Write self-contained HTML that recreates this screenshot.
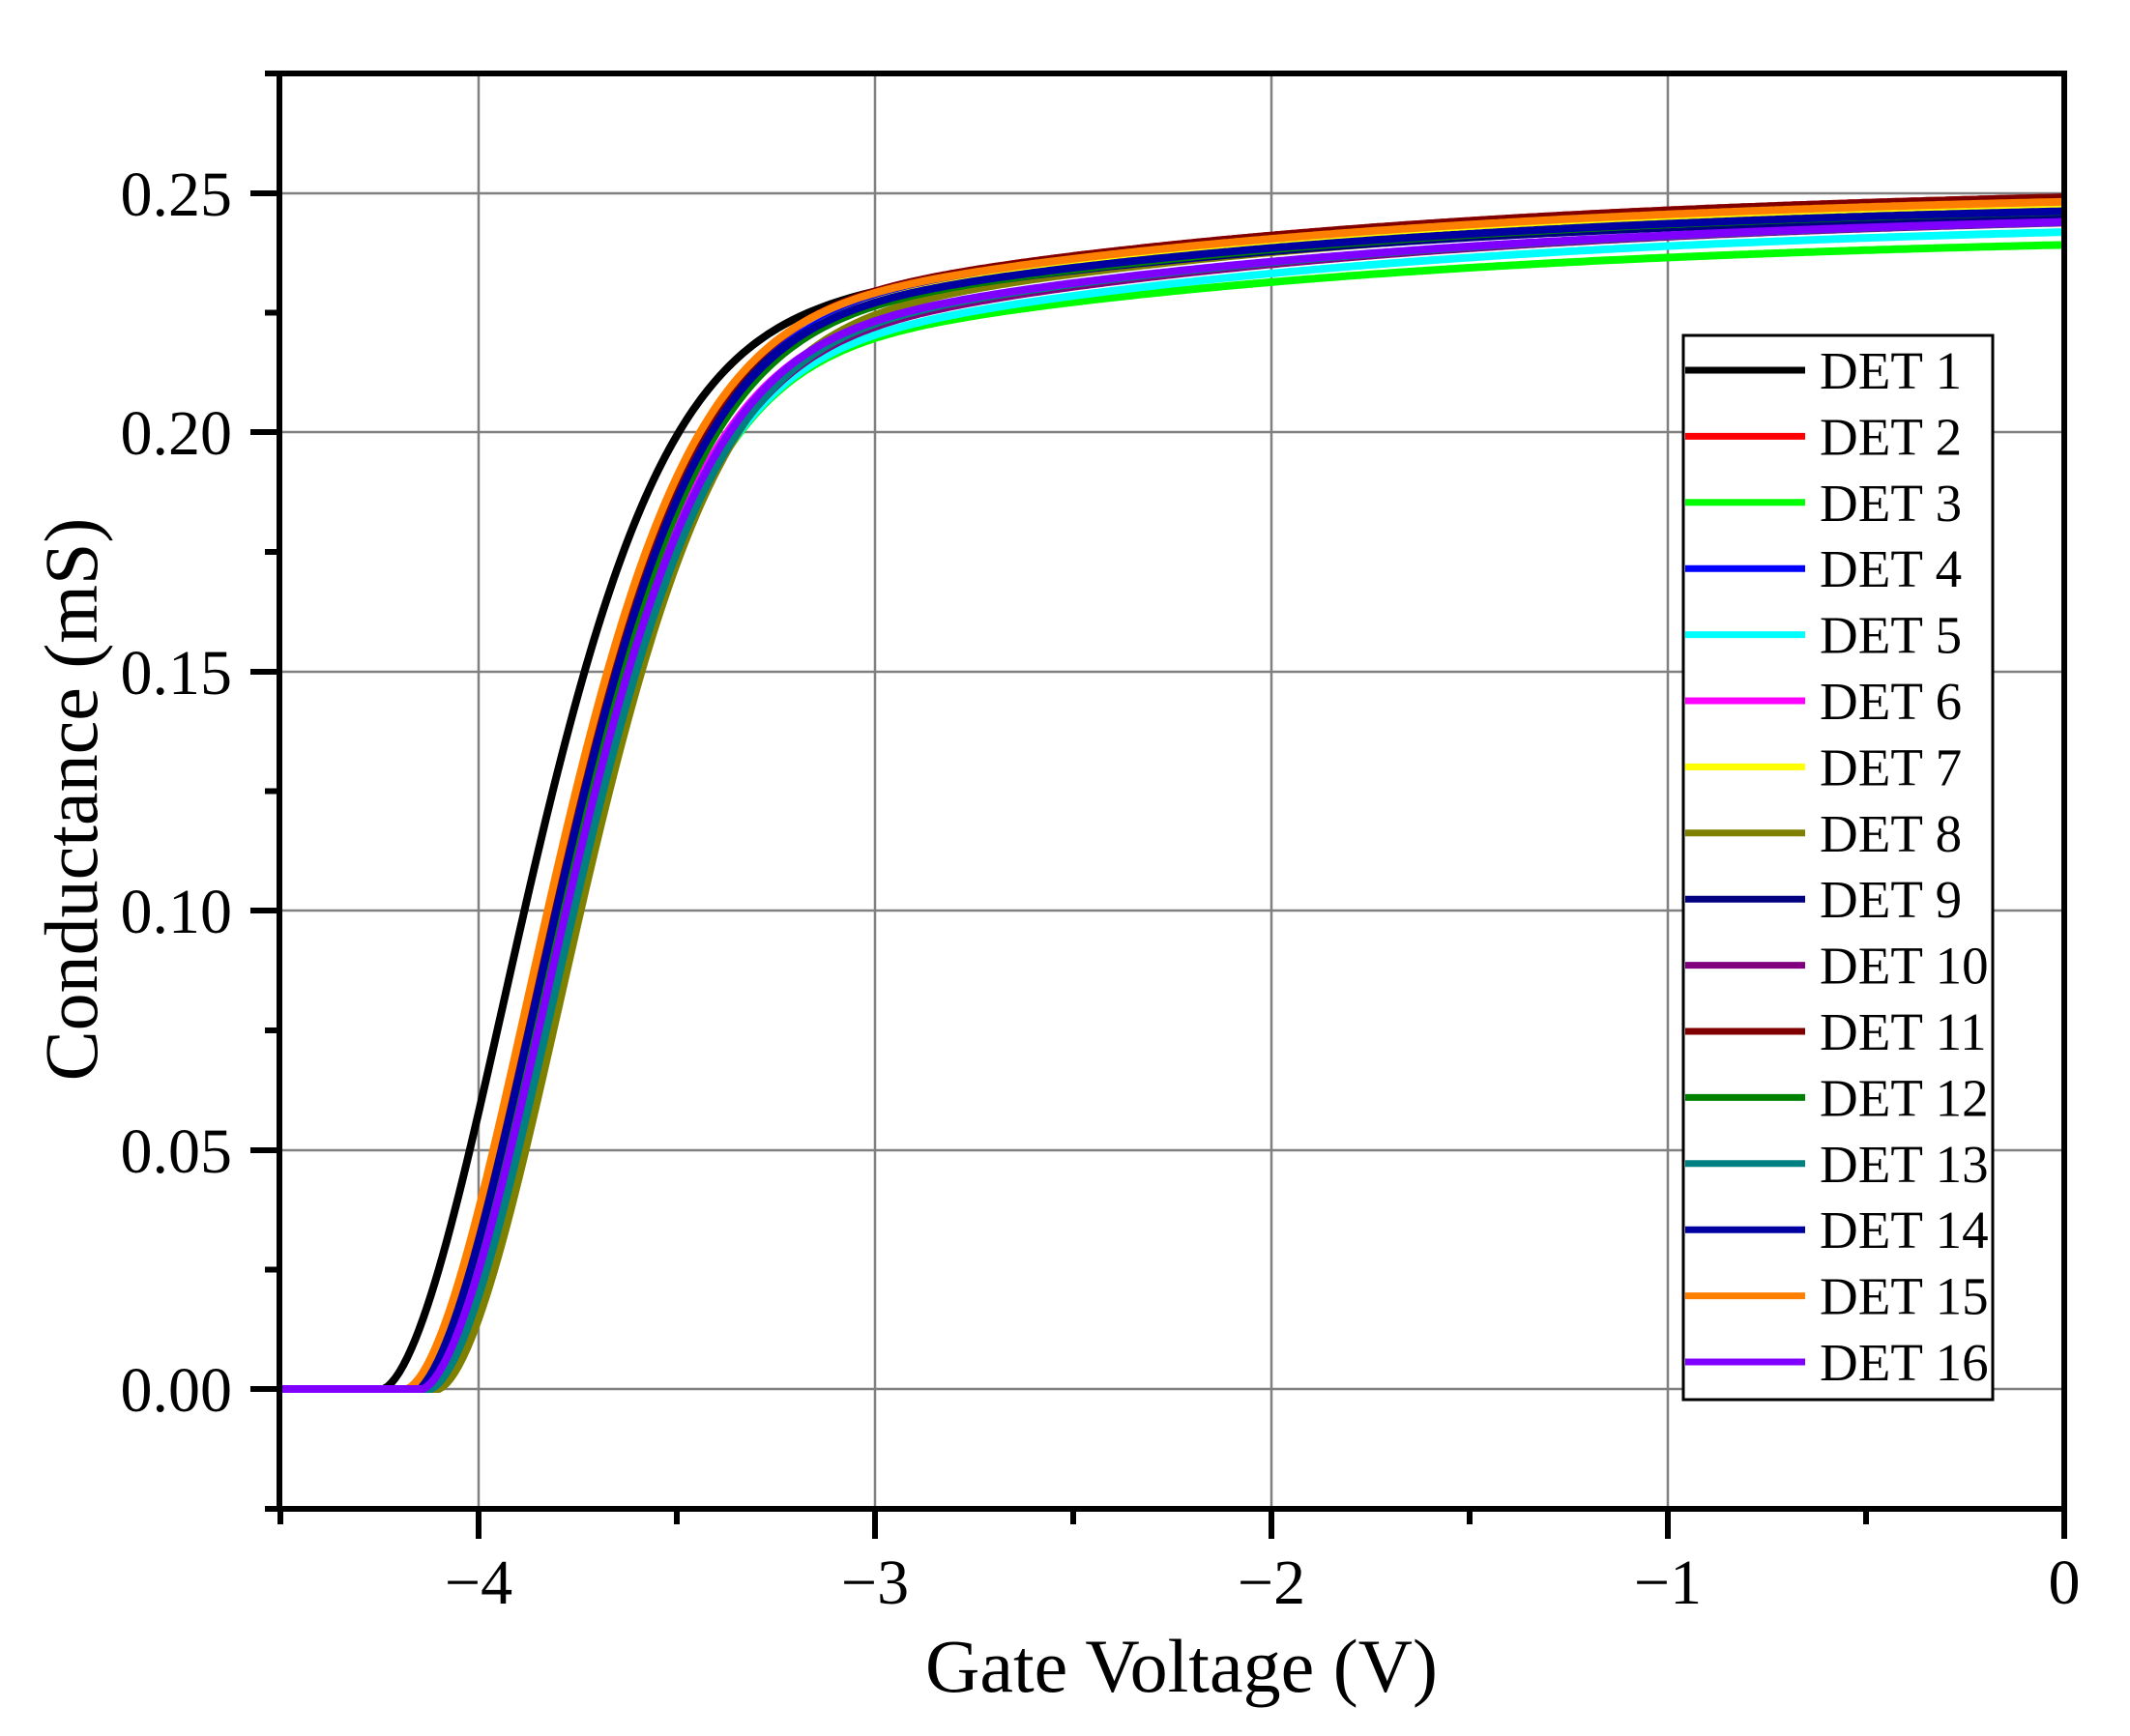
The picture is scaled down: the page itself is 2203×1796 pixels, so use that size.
<!DOCTYPE html>
<html><head><meta charset="utf-8"><style>
html,body{margin:0;padding:0;background:#fff;}
svg{display:block;font-family:"Liberation Serif",serif;}
</style></head><body>
<svg id="s" width="2203" height="1796" viewBox="0 0 2203 1796" xmlns="http://www.w3.org/2000/svg">
<rect width="2203" height="1796" fill="#fff"/>
<g stroke="#808080" stroke-width="2.5">
<line x1="495" y1="76" x2="495" y2="1561"/>
<line x1="905" y1="76" x2="905" y2="1561"/>
<line x1="1315" y1="76" x2="1315" y2="1561"/>
<line x1="1725" y1="76" x2="1725" y2="1561"/>
<line x1="289" y1="200" x2="2135" y2="200"/>
<line x1="289" y1="447" x2="2135" y2="447"/>
<line x1="289" y1="695" x2="2135" y2="695"/>
<line x1="289" y1="942" x2="2135" y2="942"/>
<line x1="289" y1="1190" x2="2135" y2="1190"/>
<line x1="289" y1="1437" x2="2135" y2="1437"/>
</g>
<g id="curves" fill="none" stroke-width="8" stroke-linejoin="round"></g>
<g stroke="#000" stroke-width="6" fill="none">
<rect x="289" y="76" width="1846" height="1485"/>
</g>
<g id="ticks" stroke="#000" stroke-width="6"></g>
<g font-size="66" fill="#000" text-anchor="end">
<text x="240" y="223">0.25</text>
<text x="240" y="470">0.20</text>
<text x="240" y="718">0.15</text>
<text x="240" y="965">0.10</text>
<text x="240" y="1213">0.05</text>
<text x="240" y="1460">0.00</text>
</g>
<g font-size="66" fill="#000" text-anchor="middle">
<text x="495" y="1659">−4</text>
<text x="905" y="1659">−3</text>
<text x="1315" y="1659">−2</text>
<text x="1725" y="1659">−1</text>
<text x="2135" y="1659">0</text>
</g>
<text x="1222" y="1750" font-size="78" text-anchor="middle">Gate Voltage (V)</text>
<text transform="translate(100,827) rotate(-90)" font-size="78" text-anchor="middle">Conductance (mS)</text>
<rect x="1741" y="347" width="320" height="1101" fill="#fff" stroke="#000" stroke-width="3"/>
<g id="legend" font-size="55"></g>
</svg>
<script>
var cols=["#000000","#ff0000","#00ff00","#0000ff","#00ffff","#ff00ff","#ffff00","#808000","#000080","#800080","#800000","#008000","#008080","#0000a0","#ff8000","#8000ff"];
var par=[[-4.24,0.205,0.045],[-4.17,0.206,0.046],[-4.14,0.198,0.044],[-4.16,0.205,0.045],[-4.14,0.196,0.049],
[-4.15,0.199,0.048],[-4.16,0.204,0.046],[-4.10,0.203,0.046],[-4.17,0.205,0.043],[-4.13,0.198,0.049],
[-4.17,0.206,0.046],[-4.15,0.204,0.045],[-4.12,0.200,0.047],[-4.16,0.205,0.044],[-4.18,0.206,0.045],[-4.14,0.200,0.047]];
var X=function(v){return 2135+v*410;},Y=function(g){return 1437-g*4948;};
var ns="http://www.w3.org/2000/svg",cg=document.getElementById("curves");
for(var i=0;i<16;i++){var p=par[i],d="";
for(var v=-4.5;v<=0.0001;v+=0.01){var u=v-p[0],g=0;
if(u>0){g=p[1]*(1-Math.exp(-Math.pow(u/0.48,1.8)))+p[2]*(1-Math.exp(-u/1.5));}
d+=(d?"L":"M")+X(v).toFixed(1)+" "+Y(g).toFixed(1);}
var e=document.createElementNS(ns,"path");e.setAttribute("d",d);e.setAttribute("stroke",cols[i]);cg.appendChild(e);}
var tg=document.getElementById("ticks"),h="";
[200,447,695,942,1190,1437].forEach(function(y){h+='<line x1="259" y1="'+y+'" x2="289" y2="'+y+'"/>';});
[76,323.5,571,818.5,1066,1313.5,1561].forEach(function(y){h+='<line x1="274" y1="'+y+'" x2="289" y2="'+y+'"/>';});
[495,905,1315,1725,2135].forEach(function(x){h+='<line x1="'+x+'" y1="1561" x2="'+x+'" y2="1592"/>';});
[290,700,1110,1520,1930].forEach(function(x){h+='<line x1="'+x+'" y1="1561" x2="'+x+'" y2="1577"/>';});
tg.innerHTML=h;
var lg=document.getElementById("legend"),s="";
for(var i=0;i<16;i++){var y=383+i*68.4;s+='<line x1="1743" y1="'+y+'" x2="1867" y2="'+y+'" stroke="'+cols[i]+'" stroke-width="7"/><text x="1882" y="'+(y+19)+'">DET '+(i+1)+'</text>';}
lg.innerHTML=s;
</script>
</body></html>
